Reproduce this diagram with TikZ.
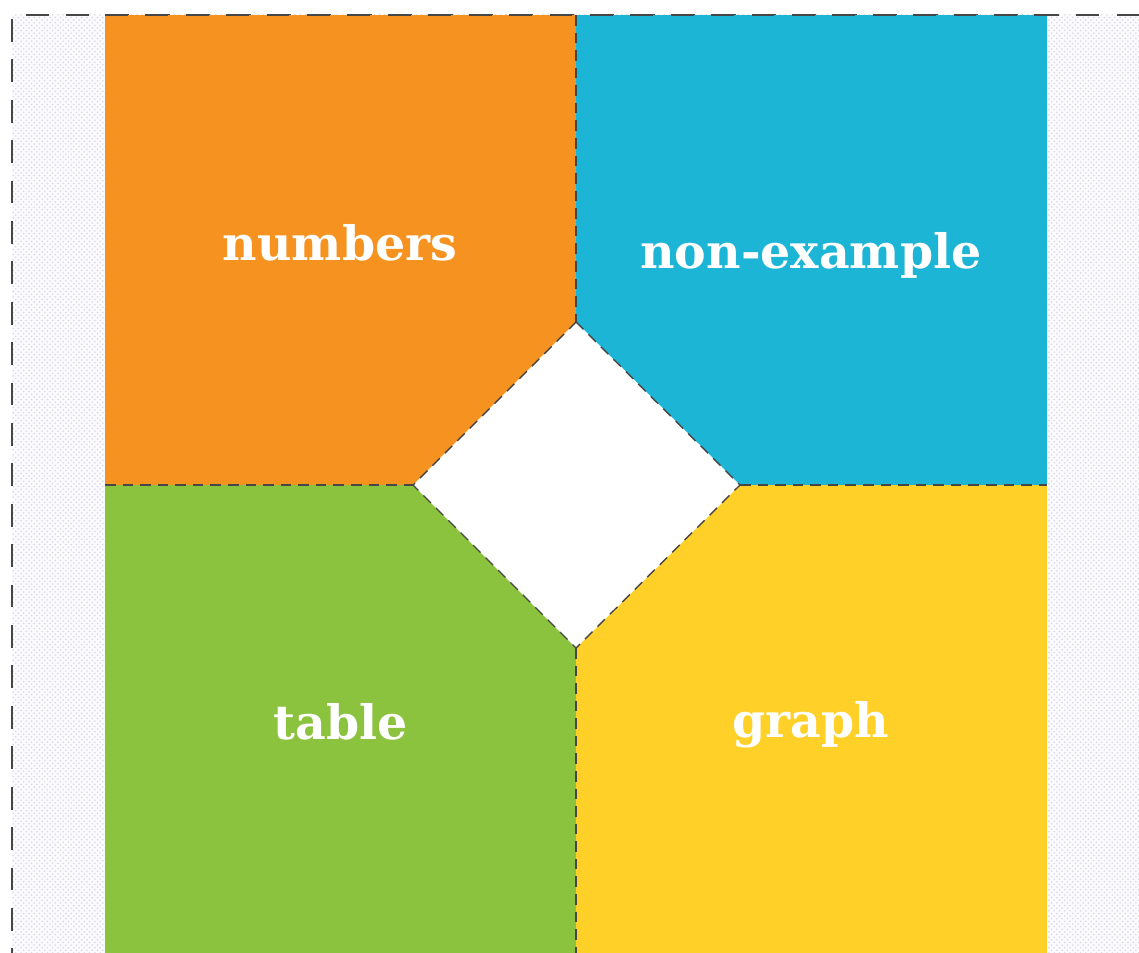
\documentclass[tikz,border=0pt]{standalone}
\usepackage{fontspec}
\setmainfont{DejaVu Serif}
\usepackage{tikz}
\usetikzlibrary{patterns}

\definecolor{cOrange}{RGB}{246,146,32}
\definecolor{cBlue}{RGB}{28,181,214}
\definecolor{cGreen}{RGB}{139,195,63}
\definecolor{cYellow}{RGB}{255,208,40}
\definecolor{cLine}{RGB}{70,70,70}

\begin{document}
\begin{tikzpicture}[x=0.02cm, y=-0.02cm,
    outer/.style={cLine, line width=1.2pt, dash pattern=on 13pt off 10pt},
    inner/.style={cLine, line width=0.8pt, dash pattern=on 6pt off 4pt},
    lbl/.style={white, font=\bfseries\fontsize{27}{30}\selectfont}
  ]
  % Rahmen
  \useasboundingbox (0,0) rectangle (1139,953);
  \clip (0,0) rectangle (1139,953);

  % Hintergrund (schraffiert)
  \fill[blue!2!white] (12,15) rectangle (1139,953);
  \fill[pattern=crosshatch dots, pattern color=black!15] (12,15) rectangle (1139,953);
  \draw[outer] (1180,15) -- (12,15) -- (12,990);

  % Mittelpunkt
  \coordinate (c) at (576,485);

  % Felder
  \fill[cOrange] (105,15) rectangle (c);
  \fill[cBlue]   (576,15) rectangle (1047,485);
  \fill[cGreen]  (105,485) rectangle (576,953);
  \fill[cYellow] (c) rectangle (1047,953);

  % Raute
  \coordinate (dt) at (576,322);
  \coordinate (dl) at (413,485);
  \coordinate (dr) at (740,485);
  \coordinate (db) at (576,648);
  \fill[white] (dt) -- (dr) -- (db) -- (dl) -- cycle;
  \draw[inner] (dt) -- (dr) -- (db) -- (dl) -- cycle;

  % Trennlinien
  \draw[inner] (576,15) -- (dt);
  \draw[inner] (db) -- (576,953);
  \draw[inner] (105,485) -- (dl);
  \draw[inner] (dr) -- (1047,485);
  \draw[outer] (105,15) -- (1047,15);

  % Beschriftung
  \node[lbl] (numbers) at (340,243) {numbers};
  \node[lbl] (nonex) at (811,255) {non-example};
  \node[lbl] (table) at (341,722) {table};
  \node[lbl] (graph) at (811,725) {graph};
\end{tikzpicture}
\end{document}
